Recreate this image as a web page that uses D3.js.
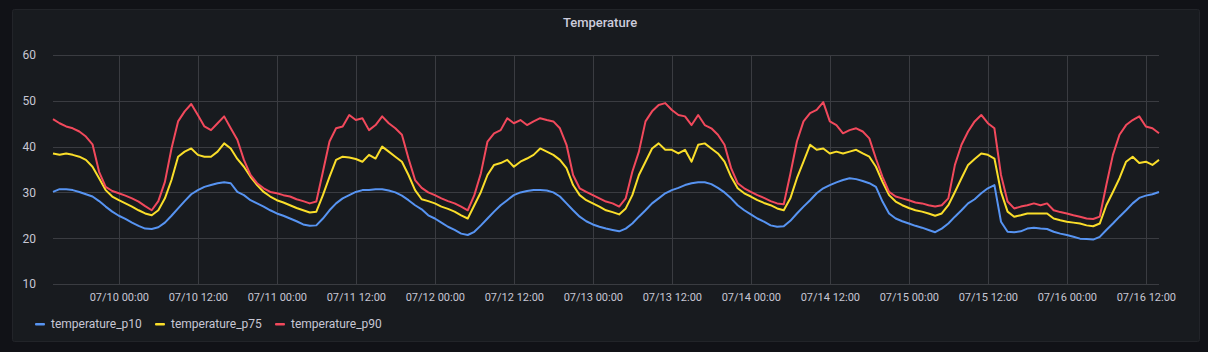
<!DOCTYPE html>
<html lang="en">

<head>
	<title>Temperature</title>
	<meta charset="utf-8">
	<script src="https://d3js.org/d3.v7.min.js"></script>
	<style>
		html, body { margin: 0; padding: 0; background: #111217; }
		svg { display: block; font-family: Roboto, "Noto Sans", sans-serif; }
	</style>
</head>

<body>
	<div id="container"></div>
	<script>
		// Data: hourly readings starting 07/09 14:00 (UTC)
		const startTime = Date.UTC(2021, 6, 9, 14);

		const p10 = [30.1, 30.7, 30.7, 30.5, 30.1, 29.6, 29.1, 28.1, 26.9, 25.8,
			24.9, 24.2, 23.4, 22.7, 22.1, 22.0, 22.4, 23.4, 24.9, 26.5,
			28.1, 29.6, 30.5, 31.2, 31.6, 32.0, 32.2, 32.0, 30.1, 29.4,
			28.3, 27.6, 26.9, 26.1, 25.4, 24.9, 24.3, 23.7, 23.0, 22.7,
			22.8, 24.3, 26.1, 27.6, 28.7, 29.4, 30.1, 30.5, 30.5, 30.7,
			30.7, 30.4, 30.0, 29.3, 28.3, 27.2, 26.3, 25.0, 24.3, 23.4,
			22.5, 21.8, 21.0, 20.7, 21.4, 22.8, 24.3, 25.8, 27.2, 28.3,
			29.4, 30.0, 30.3, 30.5, 30.5, 30.4, 30.0, 29.1, 27.6, 26.1,
			24.7, 23.7, 23.0, 22.5, 22.1, 21.8, 21.5, 22.1, 23.2, 24.7,
			26.1, 27.6, 28.7, 29.8, 30.5, 31.0, 31.6, 32.0, 32.2, 32.2,
			31.8, 31.0, 30.0, 28.7, 27.2, 26.1, 25.2, 24.3, 23.6, 22.8,
			22.5, 22.6, 23.8, 25.4, 26.9, 28.3, 29.8, 30.9, 31.6, 32.2,
			32.7, 33.1, 32.9, 32.5, 32.0, 31.2, 28.0, 25.4, 24.3, 23.7,
			23.2, 22.7, 22.3, 21.8, 21.3, 22.1, 23.2, 24.7, 26.1, 27.6,
			28.5, 29.8, 30.9, 31.6, 23.6, 21.4, 21.3, 21.5, 22.1, 22.3,
			22.1, 22.0, 21.4, 21.0, 20.7, 20.3, 19.9, 19.8, 19.7, 20.3,
			21.8, 23.2, 24.7, 26.1, 27.6, 28.8, 29.3, 29.6, 30.1];

		const p75 = [38.5, 38.2, 38.5, 38.2, 37.8, 37.1, 35.6, 33.1, 30.5, 29.1,
			28.3, 27.6, 26.9, 26.1, 25.4, 25.0, 26.1, 28.7, 32.7, 37.8,
			38.9, 39.6, 38.2, 37.8, 37.8, 38.9, 40.7, 39.6, 37.3, 35.6,
			33.4, 31.6, 30.1, 29.1, 28.3, 27.8, 27.2, 26.6, 26.1, 25.6,
			25.8, 29.4, 33.4, 37.1, 37.8, 37.6, 37.3, 36.7, 38.2, 37.4,
			40.0, 38.9, 37.8, 36.7, 33.8, 30.5, 28.5, 28.1, 27.6, 26.9,
			26.4, 25.8, 25.0, 24.3, 27.2, 30.1, 33.8, 36.0, 36.4, 37.1,
			35.6, 36.7, 37.4, 38.2, 39.6, 38.9, 38.2, 37.1, 35.3, 31.6,
			29.4, 28.3, 27.6, 26.9, 26.1, 25.7, 25.2, 26.5, 29.4, 33.8,
			36.7, 39.6, 40.7, 39.3, 39.3, 38.5, 39.3, 36.7, 40.4, 40.7,
			39.6, 38.5, 36.7, 33.4, 30.9, 29.8, 29.1, 28.3, 27.7, 27.2,
			26.5, 26.1, 28.7, 33.1, 36.7, 40.4, 39.3, 39.6, 38.5, 38.9,
			38.5, 38.9, 39.3, 38.5, 37.8, 35.6, 32.3, 29.4, 28.0, 27.2,
			26.6, 26.1, 25.8, 25.4, 24.9, 25.4, 27.2, 30.1, 33.1, 36.0,
			37.3, 38.5, 38.2, 37.4, 30.1, 25.8, 24.7, 25.0, 25.4, 25.4,
			25.4, 25.4, 24.3, 23.9, 23.6, 23.4, 23.2, 22.8, 22.6, 23.2,
			27.2, 30.1, 33.1, 36.7, 37.8, 36.4, 36.7, 36.0, 37.1];

		const p90 = [46.0, 45.1, 44.4, 44.0, 43.3, 42.2, 40.5, 34.5, 31.2, 30.3,
			29.8, 29.3, 28.7, 28.0, 27.0, 26.1, 28.1, 32.3, 39.6, 45.5,
			47.7, 49.3, 46.9, 44.4, 43.6, 45.1, 46.6, 44.0, 41.5, 37.1,
			33.8, 32.0, 30.9, 30.1, 29.8, 29.4, 29.1, 28.5, 28.1, 27.6,
			28.0, 34.5, 41.1, 44.0, 44.4, 46.9, 45.8, 46.2, 43.6, 44.7,
			46.6, 45.1, 44.0, 42.6, 37.4, 32.7, 31.0, 30.0, 29.4, 28.7,
			28.1, 27.6, 26.9, 26.1, 29.4, 34.2, 41.1, 42.9, 43.6, 46.2,
			45.1, 45.8, 44.7, 45.5, 46.2, 45.8, 45.5, 44.0, 40.4, 33.8,
			30.9, 30.1, 29.4, 28.7, 28.0, 27.6, 26.9, 28.7, 34.5, 38.9,
			45.5, 47.7, 49.1, 49.5, 48.0, 46.9, 46.6, 44.7, 46.9, 44.7,
			44.0, 42.6, 40.4, 35.3, 32.0, 30.9, 30.1, 29.4, 28.8, 28.1,
			27.6, 27.4, 34.0, 41.1, 45.5, 47.3, 48.0, 49.7, 45.5, 44.7,
			42.9, 43.6, 44.0, 43.3, 41.8, 37.4, 33.4, 30.1, 29.1, 28.7,
			28.3, 27.8, 27.6, 27.2, 26.9, 27.2, 28.7, 36.0, 40.4, 43.3,
			45.5, 46.9, 45.1, 44.0, 33.8, 28.0, 26.5, 26.9, 27.2, 27.6,
			27.2, 27.6, 26.1, 25.7, 25.4, 25.0, 24.7, 24.3, 24.2, 24.7,
			31.6, 38.2, 42.6, 44.7, 45.8, 46.6, 44.4, 44.0, 42.9];

		const seriesNames = ["temperature_p10", "temperature_p75", "temperature_p90"];
		const seriesColors = ["#5794F2", "#FADE2A", "#F2495C"];
		const yTicks = [10, 20, 30, 40, 50, 60];

		const series = [p10, p75, p90].map((vals, i) => ({
			name: seriesNames[i],
			color: seriesColors[i],
			values: vals.map((v, j) => ({ t: new Date(startTime + j * 3600e3), v }))
		}));

		// Dimensions
		const width = 1208;
		const height = 352;
		const plot = { left: 53, right: 1159, top: 55, bottom: 284 };

		const svg = d3.select("#container")
			.append("svg")
			.attr("width", width)
			.attr("height", height);

		// Panel
		svg.append("rect")
			.attr("x", 12.5)
			.attr("y", 9.5)
			.attr("width", 1187)
			.attr("height", 332)
			.attr("rx", 2)
			.attr("fill", "#181b1f")
			.attr("stroke", "#222429");

		svg.append("text")
			.attr("x", 600)
			.attr("y", 27)
			.attr("text-anchor", "middle")
			.style("font-size", "13px")
			.style("font-weight", "500")
			.style("fill", "#ccccdc")
			.text("Temperature");

		// Scales
		const xScale = d3.scaleUtc()
			.domain([series[0].values[0].t, series[0].values[series[0].values.length - 1].t])
			.range([plot.left, plot.right]);

		const yScale = d3.scaleLinear()
			.domain([10, 60])
			.range([plot.bottom, plot.top]);

		const xTicks = d3.utcHour.every(12).range(
			new Date(Date.UTC(2021, 6, 10, 0)), xScale.domain()[1]);

		// Grid
		svg.append("g")
			.selectAll("line")
			.data(yTicks)
			.join("line")
			.attr("x1", plot.left)
			.attr("x2", plot.right)
			.attr("y1", d => Math.round(yScale(d)) + 0.5)
			.attr("y2", d => Math.round(yScale(d)) + 0.5)
			.attr("stroke", "#3a3c41")
			.attr("stroke-width", 1);

		svg.append("g")
			.selectAll("line")
			.data(xTicks)
			.join("line")
			.attr("x1", d => Math.round(xScale(d)) + 0.5)
			.attr("x2", d => Math.round(xScale(d)) + 0.5)
			.attr("y1", plot.top)
			.attr("y2", plot.bottom)
			.attr("stroke", "#3a3c41")
			.attr("stroke-width", 1);

		// Axes
		const yAxis = svg.append("g")
			.attr("transform", `translate(36,0)`)
			.call(d3.axisLeft(yScale).tickValues(yTicks).tickSize(0).tickPadding(0));
		yAxis.select(".domain").remove();
		yAxis.selectAll("text")
			.style("font-size", "12px")
			.style("fill", "#c7c7d4")
			.style("font-family", "Roboto, sans-serif");

		const xAxis = svg.append("g")
			.attr("transform", `translate(0,${plot.bottom})`)
			.call(d3.axisBottom(xScale).tickValues(xTicks).tickSize(0).tickPadding(9)
				.tickFormat(d3.utcFormat("%m/%d %H:%M")));
		xAxis.select(".domain").remove();
		xAxis.selectAll("text")
			.style("font-size", "11px")
			.style("fill", "#c7c7d4")
			.style("font-family", "Roboto, sans-serif");

		// Lines
		const line = d3.line()
			.x(d => xScale(d.t))
			.y(d => yScale(d.v));

		svg.append("g")
			.selectAll("path")
			.data(series)
			.join("path")
			.attr("d", d => line(d.values))
			.attr("fill", "none")
			.attr("stroke", d => d.color)
			.attr("stroke-width", 2)
			.attr("stroke-linejoin", "round");

		// Legend
		const legendX = [35, 155, 275];
		const legend = svg.append("g")
			.selectAll("g")
			.data(series)
			.join("g")
			.attr("transform", (d, i) => `translate(${legendX[i]},324)`);

		legend.append("rect")
			.attr("x", 0)
			.attr("y", -1)
			.attr("width", 10)
			.attr("height", 2.5)
			.attr("rx", 1)
			.attr("fill", d => d.color);

		legend.append("text")
			.attr("x", 16)
			.attr("y", 4)
			.style("font-size", "12px")
			.style("fill", "#c7c7d4")
			.text(d => d.name);
	</script>
</body>

</html>
